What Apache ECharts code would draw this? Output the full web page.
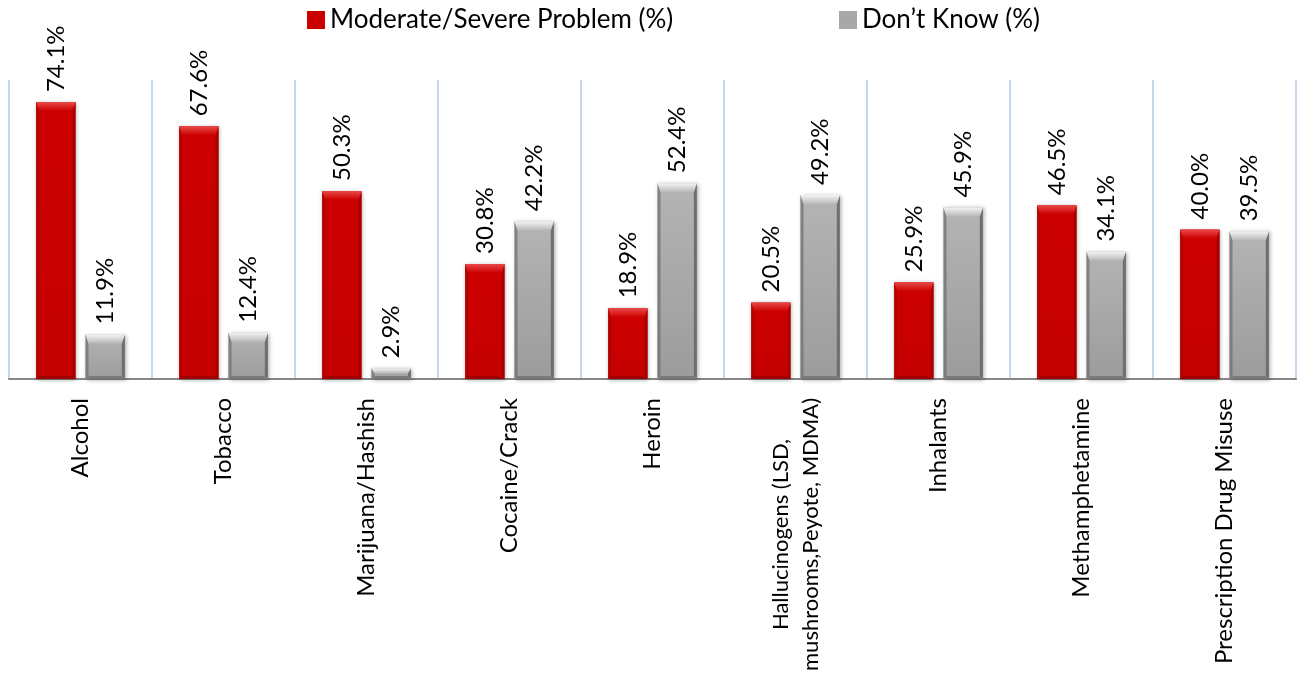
<!DOCTYPE html>
<html>
<head>
<meta charset="utf-8">
<script src="https://cdn.jsdelivr.net/npm/echarts@6/dist/echarts.min.js"></script>
<style>
  html, body { margin: 0; padding: 0; background: #fff; }
  #chart { width: 1297px; height: 682px; }
</style>
</head>
<body>
<div id="chart"></div>
<script>
var categories = ['Alcohol', 'Tobacco', 'Marijuana/Hashish', 'Cocaine/Crack', 'Heroin',
    'Hallucinogens (LSD,\nmushrooms,Peyote, MDMA)', 'Inhalants', 'Methamphetamine', 'Prescription Drug Misuse'];
var problemValues = [74.1, 67.6, 50.3, 30.8, 18.9, 20.5, 25.9, 46.5, 40.0];
var dontKnowValues = [11.9, 12.4, 2.9, 42.2, 52.4, 49.2, 45.9, 34.1, 39.5];
var seriesNames = ['Moderate/Severe Problem (%)', 'Don\u2019t Know (%)'];

var FONT = 'Lato';

// colours for the bevelled bars: body, top bevel, side edges, bottom edge
var palettes = [
    {body: '#cc0000', bodyEnd: '#c40000', top: '#e84a48', topEnd: '#cc0000', edge: '#a80000', bottom: '#a00000'},
    {body: '#b4b4b4', bodyEnd: '#9c9c9c', top: '#f4f4f4', topEnd: '#b8b8b8', edge: '#6e6e6e', bottom: '#7a7a7a'}
];

function makeRender(idx) {
    var pal = palettes[idx];
    return function (params, api) {
        var cat = api.value(0);
        var val = api.value(1);
        var base = api.coord([cat, 0]);
        var top = api.coord([cat, val]);
        var catW = api.size([1, 0])[0];
        var barW = catW * 0.275;
        var gap = catW * 0.07;
        var cx = base[0] + (idx === 0 ? -1 : 1) * (barW + gap) / 2;
        var x0 = cx - barW / 2, x1 = cx + barW / 2;
        var y0 = top[1], yb = base[1];
        var h = yb - y0;
        var b = Math.min(9, h / 2);
        var s = Math.min(3, barW / 4);
        var children = [
            {type: 'rect', shape: {x: x0, y: y0, width: barW, height: h},
                style: {fill: new echarts.graphic.LinearGradient(0, 0, 0, 1,
                    [{offset: 0, color: pal.body}, {offset: 1, color: pal.bodyEnd}]),
                    shadowBlur: 4, shadowColor: 'rgba(0,0,0,0.35)', shadowOffsetX: 1, shadowOffsetY: 1}},
            {type: 'polygon', shape: {points: [[x0, y0], [x0 + s, y0 + b], [x0 + s, yb - s], [x0, yb]]},
                style: {fill: pal.edge, opacity: 0.7}},
            {type: 'polygon', shape: {points: [[x1, y0], [x1 - s, y0 + b], [x1 - s, yb - s], [x1, yb]]},
                style: {fill: pal.edge}},
            {type: 'polygon', shape: {points: [[x0, yb], [x0 + s, yb - s], [x1 - s, yb - s], [x1, yb]]},
                style: {fill: pal.bottom}},
            {type: 'polygon', shape: {points: [[x0, y0], [x1, y0], [x1 - s, y0 + b], [x0 + s, y0 + b]]},
                style: {fill: new echarts.graphic.LinearGradient(0, 0, 0, 1,
                    [{offset: 0, color: pal.top}, {offset: 1, color: pal.topEnd}])}},
            {type: 'text', x: cx, y: y0 - 10, rotation: Math.PI / 2,
                style: {text: val.toFixed(1) + '%', fill: '#000', font: '24px ' + FONT,
                    align: 'left', verticalAlign: 'middle'}}
        ];
        return {type: 'group', children: children};
    };
}

function toData(values) {
    var out = [];
    for (var i = 0; i < values.length; i++) out.push([i, values[i]]);
    return out;
}

var myChart = echarts.init(document.getElementById('chart'));
var option = {
    animation: false,
    legend: [
        {data: [{name: seriesNames[0], icon: 'rect'}], left: 302, top: 2,
            itemWidth: 18, itemHeight: 18, itemGap: 6,
            textStyle: {fontFamily: FONT, fontSize: 26, color: '#000'}},
        {data: [{name: seriesNames[1], icon: 'rect'}], left: 834, top: 2,
            itemWidth: 18, itemHeight: 18, itemGap: 6,
            textStyle: {fontFamily: FONT, fontSize: 26, color: '#000'}}
    ],
    grid: {left: 9, right: 1, top: 80, bottom: 303, containLabel: false, outerBoundsMode: 'none'},
    xAxis: {
        type: 'category',
        data: categories,
        axisLine: {lineStyle: {color: '#868686', width: 2}},
        axisTick: {show: false},
        splitLine: {show: true, lineStyle: {color: '#b4c8e6', width: 1.5}},
        axisLabel: {
            interval: 0, rotate: 90, margin: 19, color: '#000',
            fontFamily: FONT, fontSize: 24,
            formatter: function (v) {
                var lines = v.split('\n');
                var key = lines.length > 1 ? 'm' : 'c';
                return lines.map(function (l) { return '{' + key + '|' + l + '}'; }).join('\n');
            },
            rich: {
                c: {align: 'center', fontFamily: FONT, fontSize: 24, color: '#000', lineHeight: 29},
                m: {align: 'center', fontFamily: FONT, fontSize: 22, color: '#000', lineHeight: 30}
            }
        }
    },
    yAxis: {
        type: 'value', min: 0, max: 80,
        show: false,
        splitLine: {show: false}
    },
    series: [
        {name: seriesNames[0], type: 'custom', renderItem: makeRender(0),
            itemStyle: {color: '#cc0000'}, encode: {x: 0, y: 1}, data: toData(problemValues), z: 3},
        {name: seriesNames[1], type: 'custom', renderItem: makeRender(1),
            itemStyle: {color: '#a8a8a8'}, encode: {x: 0, y: 1}, data: toData(dontKnowValues), z: 3}
    ]
};
myChart.setOption(option);
window.addEventListener('resize', function () {
    myChart.resize();
});
</script>
</body>
</html>
